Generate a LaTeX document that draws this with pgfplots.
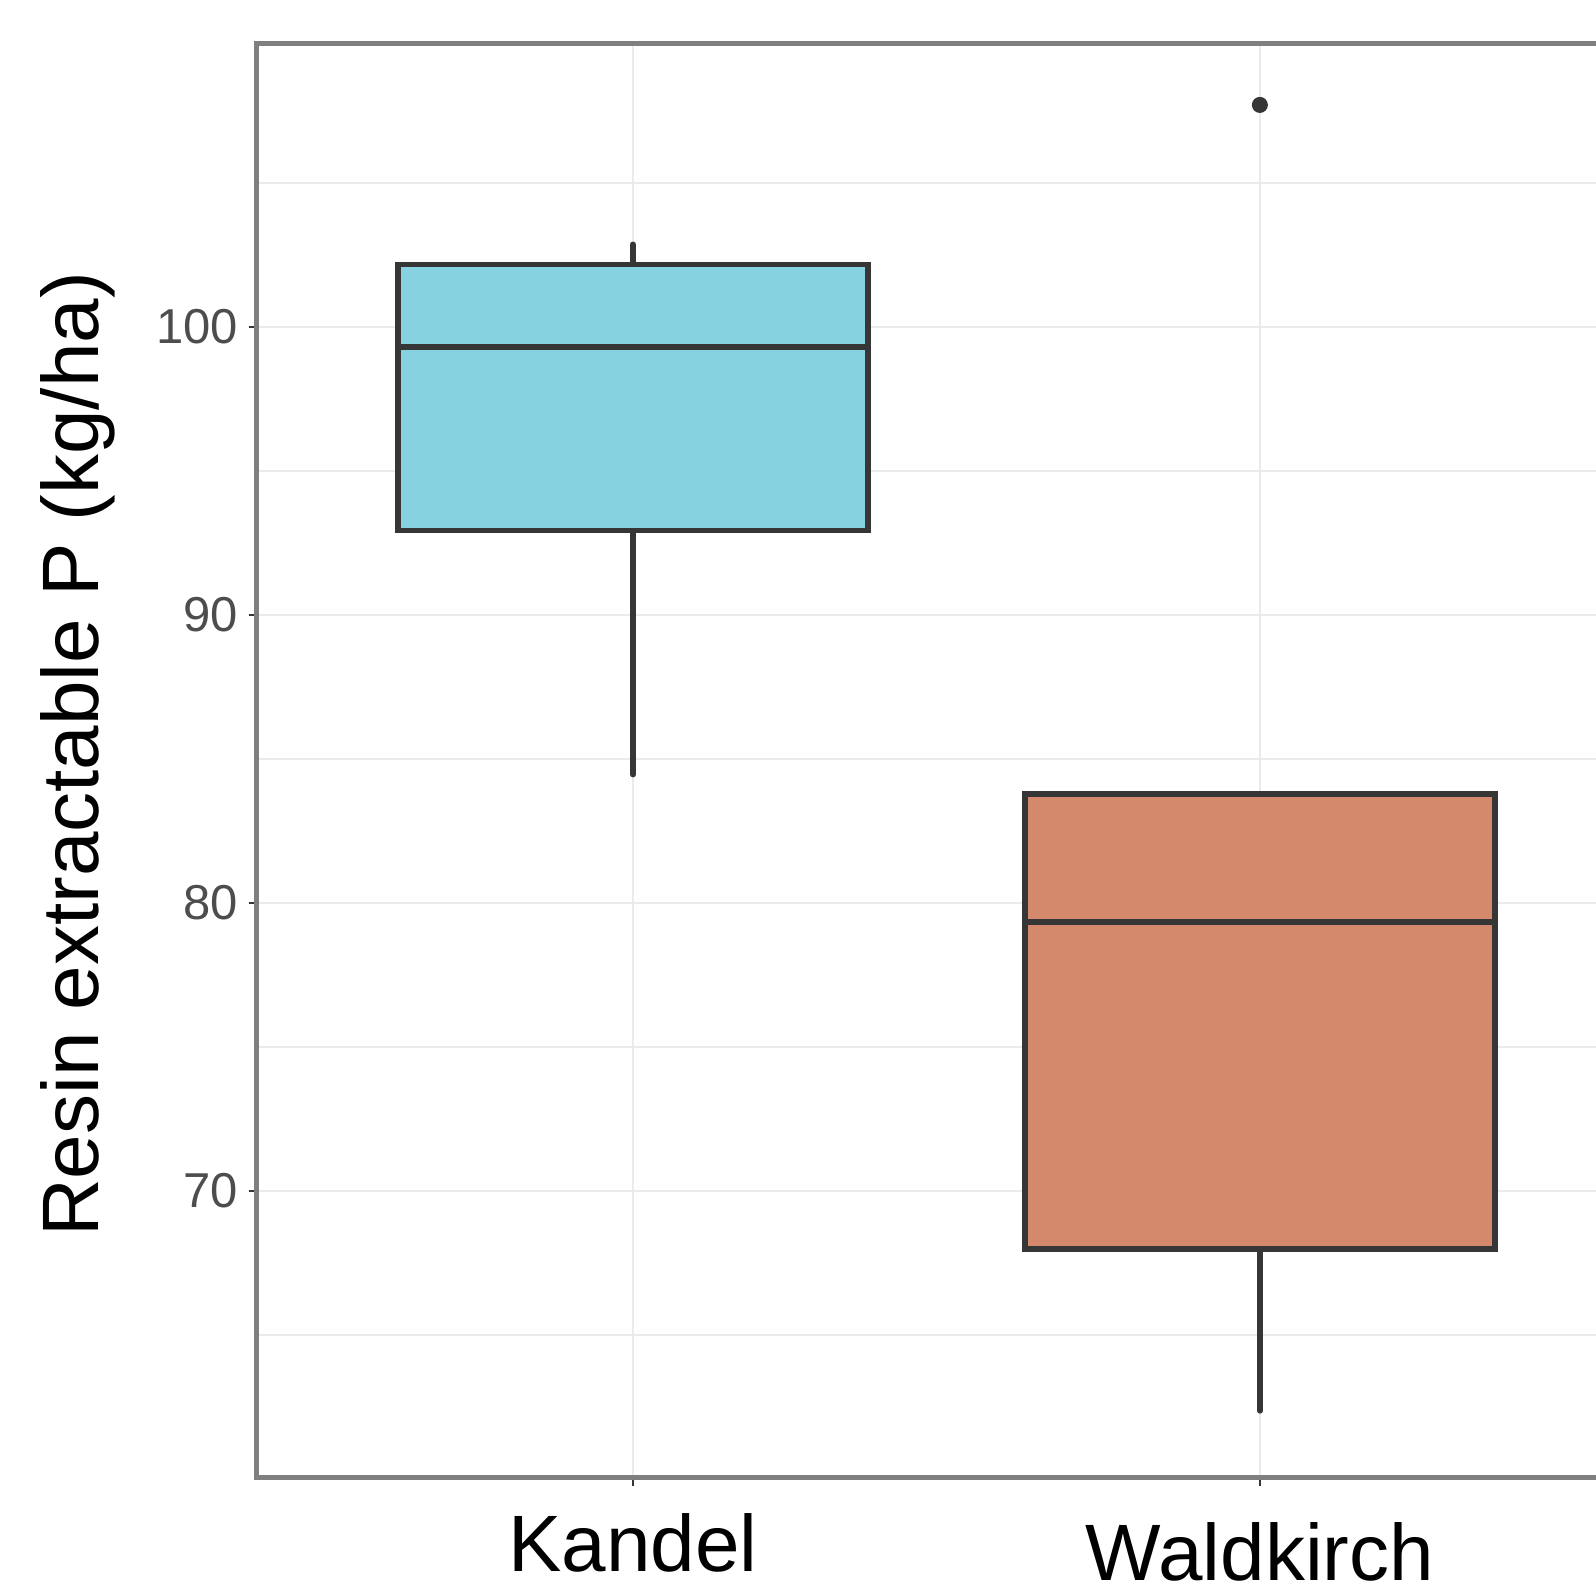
\documentclass[border=0pt]{standalone}
\usepackage{fontspec}
\setmainfont{Liberation Sans}
\usepackage{pgfplots}
\pgfplotsset{compat=1.18}
\definecolor{kandel}{HTML}{86D2E0}
\definecolor{wald}{HTML}{D5896C}
\definecolor{boxline}{HTML}{363636}
\definecolor{frame}{HTML}{7F7F7F}
\definecolor{gridc}{HTML}{EBEBEB}
\definecolor{ticktext}{HTML}{4D4D4D}
\begin{document}
\begin{tikzpicture}
\begin{axis}[
  name=main,
  at={(0,0)}, anchor=south west,
  scale only axis,
  width=344.85pt, height=358.6pt,
  xmin=0.4, xmax=2.6,
  ymin=60.04, ymax=109.84,
  xtick={1,2},
  xticklabels={{Kandel},{\raisebox{-2.2pt}{Waldkirch}}},
  ytick={70,80,90,100},
  minor ytick={65,75,85,95,105},
  /pgf/number format/assume math mode=true,
  tick pos=left,
  tick align=outside,
  major tick length=2pt,
  minor tick length=0pt,
  tick style={color=boxline, line width=0.5pt},
  xmajorgrids, ymajorgrids, yminorgrids,
  major grid style={color=gridc, line width=0.5pt},
  minor grid style={color=gridc, line width=0.5pt},
  axis line style={color=frame, line width=1.25pt},
  xticklabel style={font=\fontsize{20}{24}\selectfont, text=black, anchor=base, inner sep=0pt, yshift=-21.4pt},
  yticklabel style={font=\fontsize{12.25}{14}\selectfont, text=ticktext, xshift=0.8pt},
  ylabel={Resin extractable P (kg/ha)},
  ylabel style={font=\fontsize{20}{24}\selectfont, text=black, at={(axis description cs:-0.1296,0.5042)}, anchor=center},
]
% Kandel: whiskers
\addplot[draw=boxline, line width=1.4pt, line cap=round] coordinates {(1,92.93)(1,84.45)};
\addplot[draw=boxline, line width=1.4pt, line cap=round] coordinates {(1,102.16)(1,102.86)};
% Kandel: box and median
\addplot[draw=boxline, fill=kandel, line width=1.4pt, line join=miter, line cap=rect]
  coordinates {(0.625,92.93)(1.375,92.93)(1.375,102.16)(0.625,102.16)(0.625,92.93)};
\addplot[draw=boxline, line width=1.4pt] coordinates {(0.625,99.29)(1.375,99.29)};
% Waldkirch: whiskers
\addplot[draw=boxline, line width=1.4pt, line cap=round] coordinates {(2,67.99)(2,62.36)};
% Waldkirch: box and median
\addplot[draw=boxline, fill=wald, line width=1.4pt, line join=miter, line cap=rect]
  coordinates {(1.625,67.99)(2.375,67.99)(2.375,83.78)(1.625,83.78)(1.625,67.99)};
\addplot[draw=boxline, line width=1.4pt] coordinates {(1.625,79.33)(2.375,79.33)};
% outlier
\addplot[only marks, mark=*, mark size=1.8pt, color=boxline] coordinates {(2,107.7)};
\end{axis}
\pgfresetboundingbox
\path[use as bounding box] (-64.175pt,-26.825pt) rectangle (334.825pt,369.425pt);
\end{tikzpicture}
\end{document}
